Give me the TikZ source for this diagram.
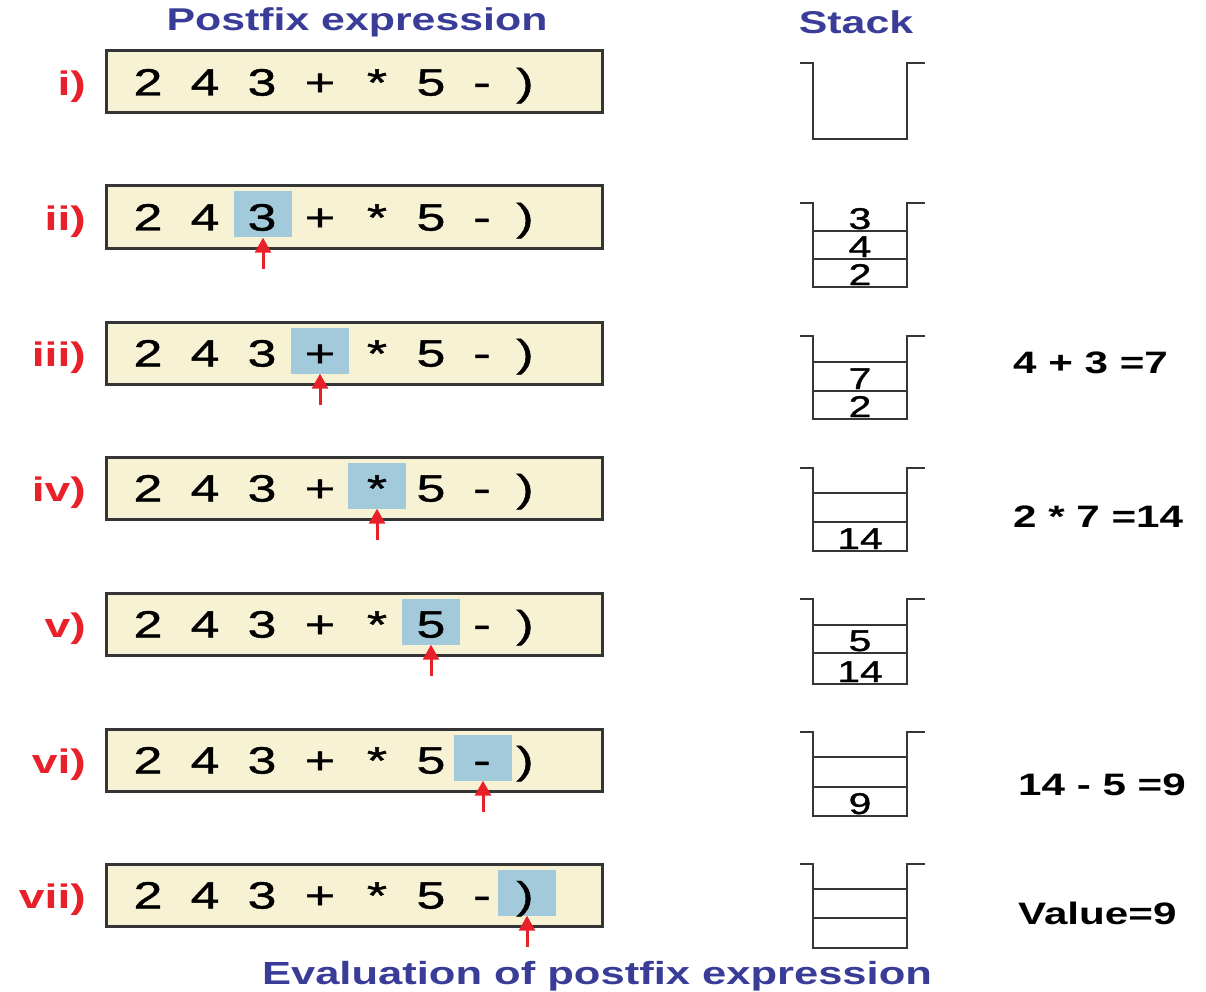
\documentclass[tikz,border=0pt]{standalone}
\usepackage{fontspec}
\setmainfont[FakeStretch=1.36]{Liberation Sans}
\newfontfamily\tokfont[FakeStretch=1.36, FakeBold=1.2]{Liberation Sans}
\usetikzlibrary{arrows.meta}
\definecolor{exprfill}{HTML}{F7F2D3}
\definecolor{hilite}{HTML}{A2CADB}
\definecolor{redlab}{HTML}{E8202A}
\definecolor{bluetitle}{HTML}{3A3D98}
\definecolor{boxline}{HTML}{353535}
\tikzset{
  exprbox/.style={draw=boxline, line width=3pt, fill=exprfill, minimum width=496pt, minimum height=62pt, anchor=west, inner sep=0},
  tok/.style={anchor=base, font=\tokfont\fontsize{38}{40}\selectfont, inner sep=0},
  rowlab/.style={anchor=east, text=redlab, font=\bfseries\fontsize{34}{36}\selectfont, inner sep=0},
  ptr/.style={draw=redlab, line width=3pt, -{Triangle[length=15pt,width=16pt]}},
  hl/.style={fill=hilite, minimum width=58pt, minimum height=46pt, inner sep=0},
  stackline/.style={draw=boxline, line width=2.5pt},
  cellnum/.style={anchor=base, font=\tokfont\fontsize{30}{32}\selectfont, inner sep=0},
  eqn/.style={anchor=west, font=\bfseries\fontsize{31}{33}\selectfont, inner sep=0},
  title/.style={text=bluetitle, font=\bfseries\fontsize{31.5}{34}\selectfont, inner sep=0}
}
\begin{document}
\begin{tikzpicture}[x=1pt,y=-1pt]
\useasboundingbox (0,0) rectangle (1206,992);
% titles
\node[title] (ttl) at (357,22) {Postfix expression};
\node[title] (stk) at (856,22) {Stack};
\node[title, font=\bfseries\fontsize{32}{34}\selectfont] (cap) at (597,976) {Evaluation of postfix expression};
% expression rows
\foreach \r/\yc/\lab in {1/82/i), 2/217/ii), 3/353/iii), 4/488/iv), 5/624/v), 6/760/vi), 7/895/vii)}{
  \node[exprbox] (box\r) at (105,\yc) {};
  \node[rowlab] (lab\r) at (86,\yc+5) {\lab};
}
% highlights
\node[hl] (hl2) at (263,214.5) {};
\node[hl] (hl3) at (320,350.5) {};
\node[hl] (hl4) at (377,485.5) {};
\node[hl] (hl5) at (431,621.5) {};
\node[hl] (hl6) at (483,757.5) {};
\node[hl] (hl7) at (527,892.5) {};
% tokens
\foreach \r/\yc in {1/82, 2/217, 3/353, 4/488, 5/624, 6/760, 7/895}{
  \foreach \i/\x/\t in {1/148/2, 2/205/4, 3/262/3, 4/320/+, 5/377/*, 6/431/5, 7/482/-, 8/525/{)}}{
    \node[tok] (t\r-\i) at (\x,\yc+13.5) {\t};
  }
}
% pointer arrows
\foreach \r/\x/\yc in {2/263/217, 3/320/353, 4/377/488, 5/431/624, 6/483/760, 7/527/895}{
  \coordinate (tail\r) at (\x,\yc+52);
  \draw[ptr] (tail\r) -- (hl\r.south);
}
% stacks
\draw[stackline] (800,63) -- (813,63) -- (813,139) -- (907,139) -- (907,63) -- (925,63);
\draw[stackline] (800,203) -- (813,203) -- (813,287) -- (907,287) -- (907,203) -- (925,203);
\draw[stackline] (813,231) -- (907,231) (813,259) -- (907,259);
\node[cellnum] (s2a) at (860,229) {3};
\node[cellnum] (s2b) at (860,257) {4};
\node[cellnum] (s2c) at (860,285) {2};
\draw[stackline] (800,336) -- (813,336) -- (813,419) -- (907,419) -- (907,336) -- (925,336);
\draw[stackline] (813,362) -- (907,362) (813,391) -- (907,391);
\node[cellnum] (s3a) at (860,389) {7};
\node[cellnum] (s3b) at (860,417) {2};
\draw[stackline] (800,468) -- (813,468) -- (813,551) -- (907,551) -- (907,468) -- (925,468);
\draw[stackline] (813,493) -- (907,493) (813,522) -- (907,522);
\node[cellnum] (s4a) at (860,549) {14};
\draw[stackline] (800,599) -- (813,599) -- (813,684) -- (907,684) -- (907,599) -- (925,599);
\draw[stackline] (813,625) -- (907,625) (813,653) -- (907,653);
\node[cellnum] (s5a) at (860,651) {5};
\node[cellnum] (s5b) at (860,682) {14};
\draw[stackline] (800,732) -- (813,732) -- (813,816) -- (907,816) -- (907,732) -- (925,732);
\draw[stackline] (813,757) -- (907,757) (813,787) -- (907,787);
\node[cellnum] (s6a) at (860,814) {9};
\draw[stackline] (800,864) -- (813,864) -- (813,948) -- (907,948) -- (907,864) -- (925,864);
\draw[stackline] (813,889) -- (907,889) (813,918) -- (907,918);
% equations
\node[eqn] (e3) at (1013,363) {4 + 3 =7};
\node[eqn] (e4) at (1013,517) {2 * 7 =14};
\node[eqn] (e6) at (1018,785) {14 - 5 =9};
\node[eqn] (e7) at (1018,913) {Value=9};
\end{tikzpicture}
\end{document}
